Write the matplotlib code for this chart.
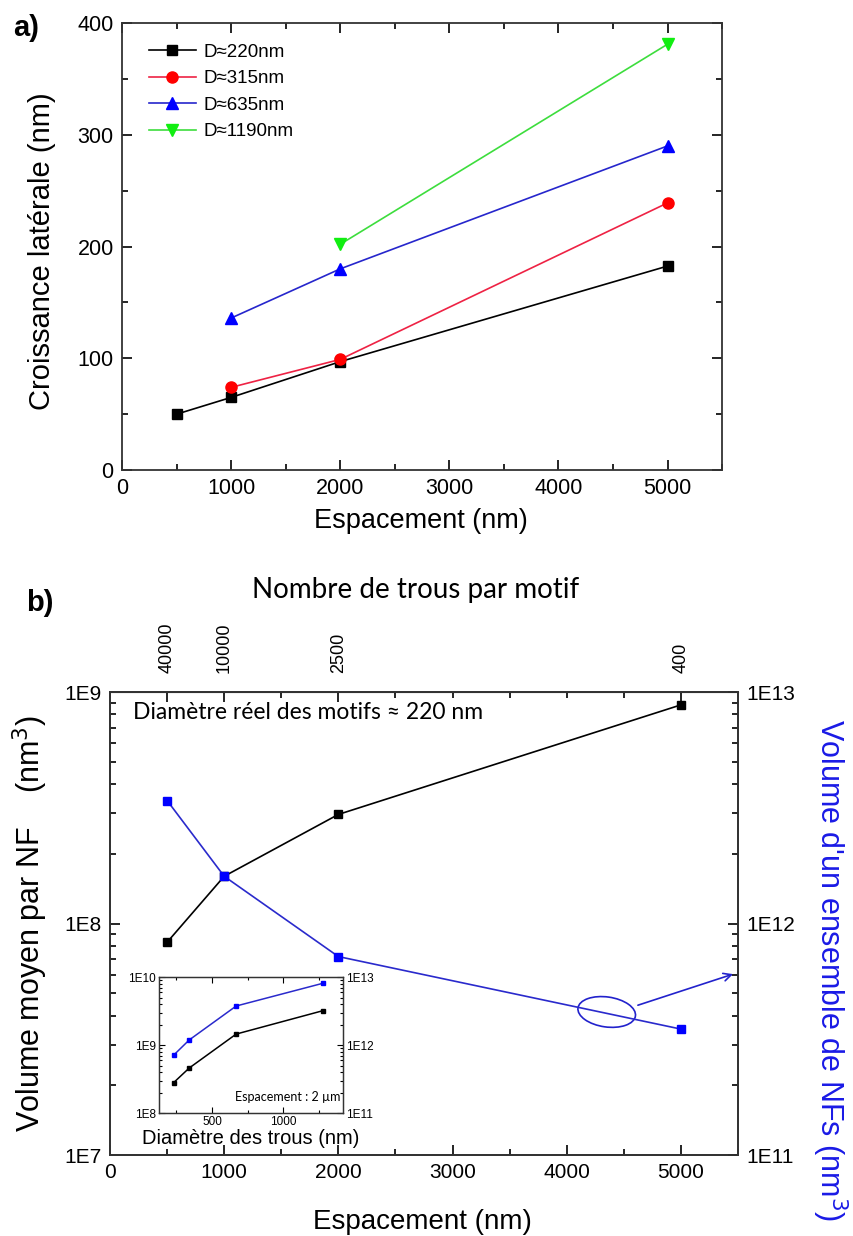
import numpy as np
import matplotlib.pyplot as plt
from matplotlib.patches import Ellipse
from matplotlib.ticker import MultipleLocator, FuncFormatter, NullFormatter
from matplotlib.transforms import ScaledTranslation

plt.rcParams['font.family'] = ['Liberation Sans', 'DejaVu Sans']

# ---------------- données (a) ----------------
esp_a = [500, 1000, 2000, 5000]
croiss_220 = [50, 65, 97, 182.5]
esp_315 = [1000, 2000, 5000]
croiss_315 = [74, 99, 239]
esp_635 = [1000, 2000, 5000]
croiss_635 = [136, 180, 290]
esp_1190 = [2000, 5000]
croiss_1190 = [202, 381]

# ---------------- données (b) ----------------
esp_b = [500, 1000, 2000, 5000]
vol_nf = [8.3e7, 1.6e8, 2.96e8, 8.8e8]
vol_ens = [3.4e12, 1.6e12, 7.2e11, 3.5e11]
nb_trous = ['40000', '10000', '2500', '400']

# encart : espacement 2 µm
diam = [230, 340, 670, 1280]
vol_nf_in = [2.8e8, 4.6e8, 1.45e9, 3.2e9]
vol_ens_in = [7.1e11, 1.19e12, 3.75e12, 8.1e12]

fig = plt.figure(figsize=(8.54, 12.36), dpi=100)

# =============== a) ===============
ax1 = fig.add_axes([0.1429, 0.6197, 0.7026, 0.3617])
ax1.plot(esp_a, croiss_220, '-s', color='k', ms=7, lw=1.2, label='D≈220nm')
ax1.plot(esp_315, croiss_315, '-o', color='#ee2244', mfc='#ff0000', mec='#ff0000', ms=8, lw=1.2, label='D≈315nm')
ax1.plot(esp_635, croiss_635, '-^', color='#2626cc', mfc='#0000ff', mec='#0000ff', ms=9, lw=1.2, label='D≈635nm')
ax1.plot(esp_1190, croiss_1190, '-v', color='#3ddd3d', mfc='#11ee11', mec='#11ee11', ms=9, lw=1.2, label='D≈1190nm')
ax1.set_xlim(0, 5500)
ax1.set_ylim(0, 400)
ax1.xaxis.set_major_locator(MultipleLocator(1000))
ax1.xaxis.set_minor_locator(MultipleLocator(500))
ax1.yaxis.set_major_locator(MultipleLocator(100))
ax1.yaxis.set_minor_locator(MultipleLocator(50))
ax1.tick_params(which='both', direction='in', top=True, right=True, width=1.2, labelsize=15.5, pad=6)
ax1.tick_params(which='major', length=7)
ax1.tick_params(which='minor', length=4)
for s in ax1.spines.values():
    s.set_linewidth(1.3)
    s.set_color('#333333')
ax1.set_xlabel('Espacement (nm)', fontsize=19.5, va='center')
ax1.xaxis.set_label_coords(0.498, -0.114)
ax1.set_ylabel('Croissance latérale (nm)', fontsize=21, va='center')
ax1.yaxis.set_label_coords(-0.133, 0.49)
ax1.legend(loc='upper left', frameon=False, fontsize=13.5, handlelength=2.5,
           handletextpad=0.45, labelspacing=0.5, borderaxespad=0.7,
           bbox_to_anchor=(0.01, 1.0))
fig.text(0.015, 0.977, 'a)', fontsize=21, fontweight='bold', va='center')

# =============== b) ===============
ax2 = fig.add_axes([0.1288, 0.0655, 0.7354, 0.3746])
ax2.plot(esp_b, vol_nf, '-s', color='k', ms=6, lw=1.2)
ax2.set_yscale('log')
ax2.set_xlim(0, 5500)
ax2.set_ylim(1e7, 1e9)
ax2.xaxis.set_major_locator(MultipleLocator(1000))
ax2.xaxis.set_minor_locator(MultipleLocator(500))
fmt = FuncFormatter(lambda v, _: '1E%d' % int(round(np.log10(v))))
ax2.yaxis.set_major_formatter(fmt)
ax2.yaxis.set_minor_formatter(NullFormatter())
ax2.tick_params(which='both', direction='in', right=False, top=False, width=1.2, labelsize=15, pad=6)
ax2.tick_params(which='major', length=7)
ax2.tick_params(which='minor', length=4)
ax2.set_xlabel('Espacement (nm)', fontsize=20, va='center')
ax2.xaxis.set_label_coords(0.498, -0.145)
ax2.set_ylabel('Volume moyen par NF    (nm$^3$)', fontsize=22, va='center')
ax2.yaxis.set_label_coords(-0.127, 0.5)

ax2r = ax2.twinx()
ax2r.plot(esp_b, vol_ens, '-s', color='#2a2acc', mfc='#0000ff', mec='#0000ff', ms=6, lw=1.2)
ax2r.set_yscale('log')
ax2r.set_ylim(1e11, 1e13)
ax2r.yaxis.set_major_formatter(fmt)
ax2r.yaxis.set_minor_formatter(NullFormatter())
ax2r.tick_params(which='both', direction='in', width=1.2, labelsize=15, pad=6)
ax2r.tick_params(which='major', length=7)
ax2r.tick_params(which='minor', length=4)
ax2r.set_ylabel("Volume d'un ensemble de NFs (nm$^3$)", fontsize=22, color='#1a1ae6',
                rotation=-90, va='center', ha='center')
ax2r.yaxis.set_label_coords(1.1465, 0.40)
for a in (ax2, ax2r):
    for s in a.spines.values():
        s.set_linewidth(1.3)
        s.set_color('#333333')

top = ax2.secondary_xaxis('top')
top.set_xticks(esp_b, labels=nb_trous)
top.xaxis.set_minor_locator(MultipleLocator(500))
top.tick_params(which='both', direction='in', labelsize=13, labelrotation=90, width=1.2, pad=14)
top.tick_params(which='major', length=7)
top.tick_params(which='minor', length=4)
ax2.text(0.486, 1.22, 'Nombre de trous par motif', transform=ax2.transAxes,
         fontsize=20, family='Lato', ha='center', va='center')

ax2.text(0.037, 0.955, 'Diamètre réel des motifs ≈ 220 nm', transform=ax2.transAxes,
         fontsize=16.5, family='Lato', va='center')

# ellipse + flèche
ell_tr = fig.dpi_scale_trans + ScaledTranslation(4350, 4.15e11, ax2r.transData)
ax2r.add_patch(Ellipse((0, 0), 0.58, 0.30, angle=-8, transform=ell_tr,
                       fill=False, ec='#2222cc', lw=1.2))
ax2r.annotate('', xy=(5480, 6.1e11), xytext=(4600, 4.4e11),
              arrowprops=dict(arrowstyle='->', color='#2222cc', lw=1.2, mutation_scale=14))

fig.text(0.03, 0.512, 'b)', fontsize=21, fontweight='bold', va='center')

# =============== encart ===============
axi = fig.add_axes([0.1862, 0.0995, 0.2155, 0.110])
axi.plot(diam, vol_nf_in, '-s', color='k', ms=2.5, lw=1.1)
axi.set_yscale('log')
axi.set_xlim(127, 1422)
axi.set_ylim(1e8, 1e10)
axi.xaxis.set_major_locator(MultipleLocator(500))
axi.xaxis.set_minor_locator(MultipleLocator(250))
axi.yaxis.set_major_formatter(fmt)
axi.yaxis.set_minor_formatter(NullFormatter())
axi.tick_params(which='both', direction='in', top=True, right=False, labelsize=8.5, width=0.8, pad=2)
axi.tick_params(which='major', length=4)
axi.tick_params(which='minor', length=2)
axi.set_xlabel('Diamètre des trous (nm)', fontsize=14.5, va='center')
axi.xaxis.set_label_coords(0.5, -0.19)

axir = axi.twinx()
axir.plot(diam, vol_ens_in, '-s', color='#2a2acc', mfc='#0000ff', mec='#0000ff', ms=2.5, lw=1.1)
axir.set_yscale('log')
axir.set_ylim(1e11, 1e13)
axir.yaxis.set_major_formatter(fmt)
axir.yaxis.set_minor_formatter(NullFormatter())
axir.tick_params(which='both', direction='in', labelsize=8.5, width=0.8, pad=2)
axir.tick_params(which='major', length=4)
axir.tick_params(which='minor', length=2)
axi.text(0.985, 0.12, 'Espacement : 2 µm', transform=axi.transAxes, ha='right',
         va='center', fontsize=9, family='Lato')
for a in (axi, axir):
    for s in a.spines.values():
        s.set_linewidth(0.9)
        s.set_color('#333333')

fig.savefig('out.png', dpi=100)
